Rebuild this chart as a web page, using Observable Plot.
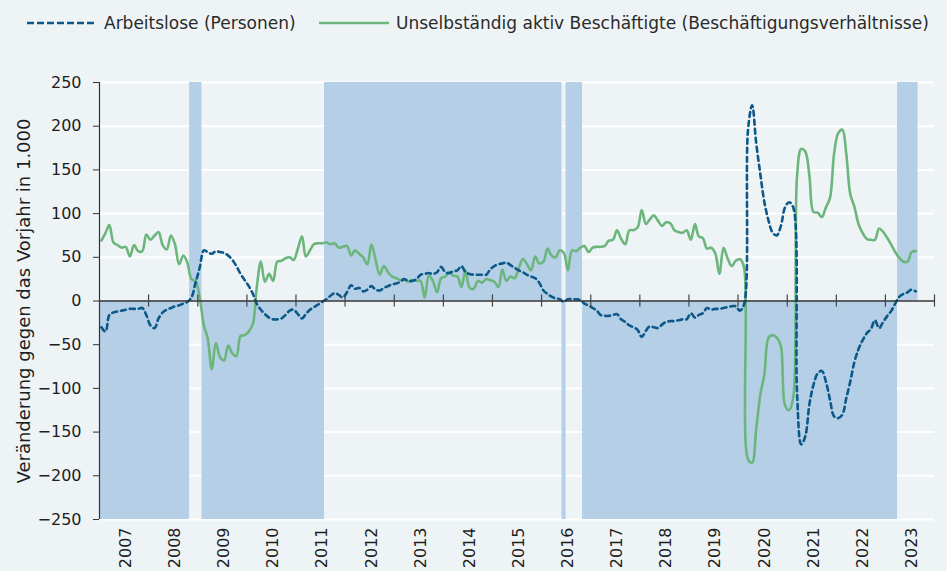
<!DOCTYPE html>
<html>
<head>
<meta charset="utf-8">
<script src="https://cdn.jsdelivr.net/npm/d3@7"></script>
<script src="https://cdn.jsdelivr.net/npm/@observablehq/plot@0.6"></script>
<style>
  html, body { margin: 0; padding: 0; background: #eef4f5; }
  #wrap { position: relative; width: 947px; height: 571px; overflow: hidden; font-family: "DejaVu Sans", sans-serif; }
  .leg { position: absolute; top: 13px; display: flex; align-items: center; font-size: 17px; color: #2a2a2a; white-space: nowrap; }
  .leg svg { margin-right: 7px; }
</style>
</head>
<body>
<div id="wrap"></div>
<script>
// Monthly series, Jan 2007 .. Aug 2023 (change vs. previous year, in 1,000)
const seriesNames = ["Arbeitslose (Personen)", "Unselbständig aktiv Beschäftigte (Beschäftigungsverhältnisse)"];
const startYear = 2007;
const arbeitslose = [
  -30,-35,-16,-13,-12,-11,-10,-9,-9,-9,-8,-16,
  -28,-31,-20,-13,-10,-8,-6,-5,-3,-1,4,21,
  38,58,56,54,57,56,55,52,47,40,31,24,
  17,8,-3,-10,-15,-19,-21,-21,-20,-16,-11,-10,
  -15,-20,-15,-10,-7,-4,-1,2,6,9,7,4,
  10,18,14,15,11,13,17,13,12,15,17,19,
  20,22,25,23,23,25,30,31,32,31,33,39,
  33,32,34,35,40,33,31,30,30,30,30,36,
  40,42,43,44,41,38,35,33,30,28,26,21,
  12,8,5,3,2,-1,2,2,2,1,-3,-5,
  -8,-11,-16,-17,-17,-16,-15,-21,-24,-28,-30,-33,
  -41,-34,-29,-30,-31,-27,-24,-23,-23,-22,-21,-21,
  -14,-19,-16,-14,-8,-10,-9,-9,-8,-7,-6,-6,
  -11,-4,195,224,181,145,113,92,78,75,86,107,
  113,107,-105,-164,-155,-118,-96,-83,-80,-92,-113,-132,
  -134,-130,-112,-92,-70,-55,-45,-37,-32,-22,-31,-24,
  -17,-11,-3,5,8,10,13,11
];
const beschaeftigte = [
  69,78,87,67,64,61,62,51,64,57,57,76,
  70,75,79,64,59,75,65,42,52,44,25,23,
  4,-28,-42,-78,-48,-64,-68,-51,-60,-63,-40,-39,
  -35,-26,15,45,22,31,23,45,46,49,50,47,
  60,74,51,58,65,66,66,67,65,66,61,62,
  63,52,58,54,50,42,65,47,30,40,33,28,
  26,24,25,22,24,23,23,4,29,23,10,26,
  28,33,29,28,16,35,15,14,23,21,25,24,
  22,16,36,23,28,26,37,48,42,35,51,43,
  45,60,52,50,58,55,35,58,57,61,63,56,
  61,62,62,63,69,70,81,71,65,81,81,84,
  104,88,93,98,92,86,90,89,81,79,78,81,
  70,88,74,72,60,61,55,31,61,49,40,46,
  48,38,-181,-185,-147,-107,-84,-42,-39,-42,-52,-119,
  -125,-110,143,174,171,143,102,101,96,107,118,168,
  192,196,170,122,108,88,78,71,70,70,83,79,
  72,64,56,49,45,45,56,57
];
// Shaded periods (month index from Jan 2007, end exclusive) and their side
const periodStart = [0, 22, 25, 55, 113, 114, 118, 195];
const periodEnd   = [22, 25, 55, 113, 114, 118, 195, 200];
const periodSide  = ["unten", "oben", "unten", "oben", "unten", "oben", "unten", "oben"];
const yTicks = [-250, -200, -150, -100, -50, 0, 50, 100, 150, 200, 250];
const yearLabels = d3.range(2007, 2024);
const yLabel = "Veränderung gegen das Vorjahr in 1.000";

const colBlue = "#0b5889";
const colGreen = "#6cb67d";
const colShade = "#b5d0e6";
const monthDate = (i, day = 15) => new Date(Date.UTC(startYear, i, day));

const rows = [];
arbeitslose.forEach((v, i) => rows.push({date: monthDate(i), value: v, series: seriesNames[0]}));
beschaeftigte.forEach((v, i) => rows.push({date: monthDate(i), value: v, series: seriesNames[1]}));
const periods = periodStart.map((s, i) => ({
  x1: monthDate(s, 1), x2: monthDate(periodEnd[i], 1),
  y1: periodSide[i] === "oben" ? 0 : yTicks[0],
  y2: periodSide[i] === "oben" ? yTicks[yTicks.length - 1] : 0
}));
const yearStarts = d3.range(2008, 2025).map(y => new Date(Date.UTC(y, 0, 1)));
const yearMids = yearLabels.map(y => new Date(Date.UTC(y, 6, 1)));

const chart = Plot.plot({
  width: 947,
  height: 571,
  marginLeft: 99,
  marginRight: 13,
  marginTop: 82,
  marginBottom: 52,
  style: {background: "#eef4f5", fontFamily: "DejaVu Sans, sans-serif", color: "#1e1e1e"},
  x: {type: "utc", domain: [new Date(Date.UTC(2007, 0, 1)), new Date(Date.UTC(2024, 0, 1))]},
  y: {domain: [-250, 250]},
  marks: [
    Plot.gridY(yTicks, {stroke: "#ffffff", strokeOpacity: 1, strokeWidth: 2}),
    Plot.rect(periods, {x1: "x1", x2: "x2", y1: "y1", y2: "y2", fill: colShade}),
    Plot.ruleX([new Date(Date.UTC(2007, 0, 1))], {stroke: "#333", strokeWidth: 1.2}),
    Plot.axisY(yTicks, {tickSize: 6, tickPadding: 12, fontSize: 16, stroke: "#333"}),
    Plot.axisY({ticks: [], tickSize: 0, fontSize: 18, label: yLabel,
      labelAnchor: "center", labelArrow: "none", labelOffset: 82}),
    Plot.axisX(yearMids, {tickSize: 0, tickPadding: 8, tickRotate: -90, fontSize: 16, dx: 2,
      tickFormat: d => String(d.getUTCFullYear()), label: null}),
    Plot.line(rows.filter(d => d.series === seriesNames[1]), {x: "date", y: "value",
      stroke: colGreen, strokeWidth: 2.6, curve: "catmull-rom"}),
    Plot.line(rows.filter(d => d.series === seriesNames[0]), {x: "date", y: "value",
      stroke: colBlue, strokeWidth: 2.6, strokeDasharray: "5,4", curve: "catmull-rom"}),
    Plot.ruleY([0], {stroke: "#333", strokeWidth: 1.3}),
    Plot.ruleX(yearStarts, {y1: -7, y2: 7, stroke: "#444", strokeWidth: 1.2})
  ]
});

const wrap = document.getElementById("wrap");
wrap.appendChild(chart);
chart.style.position = "absolute";
chart.style.left = "0px";
chart.style.top = "0px";

function legendItem(left, name, color, dash) {
  const d = document.createElement("div");
  d.className = "leg";
  d.style.left = left + "px";
  d.innerHTML = `<svg width="70" height="10"><line x1="0" y1="5" x2="70" y2="5" stroke="${color}" stroke-width="2.6" ${dash ? `stroke-dasharray="${dash}"` : ""}/></svg><span>${name}</span>`;
  wrap.appendChild(d);
}
legendItem(27, seriesNames[0], colBlue, "7,3");
legendItem(319, seriesNames[1], colGreen, null);
</script>
</body>
</html>
